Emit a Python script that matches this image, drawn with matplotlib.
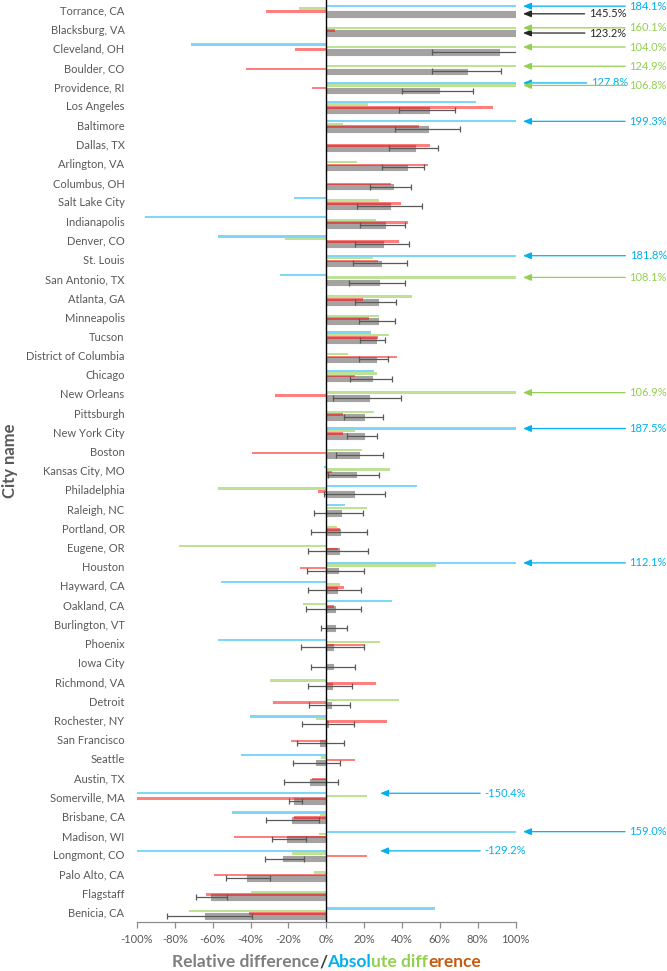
import numpy as np
import matplotlib
matplotlib.use("Agg")
import matplotlib.pyplot as plt
from matplotlib.offsetbox import TextArea, HPacker, AnchoredOffsetbox

plt.rcParams["font.family"] = ["Lato", "DejaVu Sans"]

nan = np.nan

# ── Data (percent) ────────────────────────────────────────────────────────────
cities = [
    "Torrance, CA", "Blacksburg, VA", "Cleveland, OH", "Boulder, CO", "Providence, RI",
    "Los Angeles", "Baltimore", "Dallas, TX", "Arlington, VA", "Columbus, OH",
    "Salt Lake City", "Indianapolis", "Denver, CO", "St. Louis", "San Antonio, TX",
    "Atlanta, GA", "Minneapolis", "Tucson", "District of Columbia", "Chicago",
    "New Orleans", "Pittsburgh", "New York City", "Boston", "Kansas City, MO",
    "Philadelphia", "Raleigh, NC", "Portland, OR", "Eugene, OR", "Houston",
    "Hayward, CA", "Oakland, CA", "Burlington, VT", "Phoenix", "Iowa City",
    "Richmond, VA", "Detroit", "Rochester, NY", "San Francisco", "Seattle",
    "Austin, TX", "Somerville, MA", "Brisbane, CA", "Madison, WI", "Longmont, CO",
    "Palo Alto, CA", "Flagstaff", "Benicia, CA",
]

# relative difference (gray) with error range
rel = [145.5, 123.2, 91.3, 74.5, 59.7, 54.4, 53.7, 47.0, 42.5, 35.1,
       33.6, 30.9, 29.8, 29.1, 28.0, 27.3, 27.3, 26.4, 26.2, 24.2,
       22.4, 20.1, 20.1, 17.4, 15.7, 14.5, 7.8, 7.2, 6.7, 6.3,
       5.6, 4.5, 4.5, 3.8, 3.4, 2.9, 2.5, 1.1, -3.4, -5.6,
       -8.5, -17.2, -17.9, -20.8, -23.0, -42.1, -60.9, -64.2]
err_lo = [nan, nan, 56.0, 56.0, 40.2, 38.7, 36.5, 32.9, 29.5, 23.0,
          16.1, 17.9, 15.0, 14.1, 11.9, 15.0, 17.4, 17.9, 17.4, 12.8,
          3.8, 9.6, 11.2, 4.9, 1.0, -1.1, -6.3, -7.8, -9.6, -10.0,
          -9.4, -10.7, -2.9, -13.4, -7.8, -9.6, -8.9, -12.8, -15.7, -17.4,
          -22.4, -19.7, -31.8, -28.6, -32.4, -53.0, -68.7, -83.9]
err_hi = [nan, nan, 110.0, 92.4, 77.7, 68.2, 70.5, 58.8, 51.9, 45.0,
          50.8, 41.4, 43.6, 42.5, 41.8, 36.9, 36.5, 31.3, 32.4, 34.7,
          39.6, 29.8, 26.8, 29.8, 28.0, 30.9, 19.5, 21.3, 21.9, 20.1,
          18.6, 18.6, 11.2, 20.1, 15.2, 13.4, 12.3, 14.5, 9.6, 7.4,
          6.0, -12.8, -3.8, -10.5, -11.6, -29.5, -52.6, -39.1]

# absolute difference series
blue = [184.1, nan, -71.6, nan, 127.8, 79.0, 199.3, nan, nan, nan,
        -16.8, -96.0, -57.0, 181.8, -24.6, nan, nan, 23.9, nan, 25.3,
        nan, nan, 187.5, nan, -1.1, 48.1, 10.1, nan, nan, 112.1,
        -55.5, 34.7, nan, -57.0, nan, nan, nan, -40.3, nan, -45.2,
        nan, -150.4, -49.7, 159.0, -129.2, nan, nan, 57.7]
green = [-14.5, 160.1, 104.0, 124.9, 106.8, 21.9, 9.0, nan, 16.1, nan,
         28.0, 26.4, -21.7, 24.6, 108.1, 45.4, 28.0, 33.1, 11.6, 26.8,
         106.9, 25.3, 15.2, 19.0, 33.6, -57.0, 21.7, 5.6, -77.6, 58.2,
         7.4, -12.3, nan, 28.6, nan, -29.8, 38.7, -5.6, nan, -2.9,
         nan, 21.7, -3.4, -3.8, -17.9, -6.3, -39.8, -72.7]
red = [-32.0, 4.5, -16.3, -42.3, -7.4, 87.9, 49.2, 54.8, 53.7, 34.2,
       39.6, 43.0, 38.5, 27.5, nan, 19.5, 22.8, 27.1, 37.4, 15.2,
       -27.3, 9.0, 9.0, -39.1, 2.9, -4.5, nan, 7.2, 6.3, -14.1,
       9.6, 4.0, nan, 20.6, nan, 26.4, -28.4, 32.0, -18.6, 15.2,
       -7.4, -100.0, -16.8, -48.8, 21.3, -59.3, -63.3, -40.9]

# ── Colors ────────────────────────────────────────────────────────────────────
BLUE = "#00b0f0"
GREEN = "#92d050"
RED = "#ff0000"
GRAY = "#a5a2a2"
ORANGE = "#c55a11"
TXT = "#595959"

fig = plt.figure(figsize=(6.67, 9.71), dpi=100)
ax = fig.add_axes([137 / 667, 1 - 921.7 / 971, 378.5 / 667, 921.7 / 971])

y = np.arange(len(cities))
rel_a = np.array(rel)
lo = np.array(err_lo)
hi = np.array(err_hi)

# gray relative-difference bars + error bars
ax.barh(y + 0.2, rel_a, height=0.3, color=GRAY, edgecolor=GRAY,
        linewidth=0.8, joinstyle="round", zorder=2)
ax.barh(y - 0.2, blue, height=0.12, color=BLUE, alpha=0.5, linewidth=0, zorder=3)
ax.barh(y - 0.07, green, height=0.12, color=GREEN, alpha=0.6, linewidth=0, zorder=3)
ax.barh(y + 0.07, red, height=0.13, color=RED, alpha=0.5, linewidth=0, zorder=4)

ok = ~np.isnan(lo)
ax.errorbar(rel_a[ok], y[ok] + 0.2,
            xerr=[rel_a[ok] - lo[ok], hi[ok] - rel_a[ok]],
            fmt="none", ecolor=TXT, elinewidth=0.9, capsize=2.5, capthick=0.9,
            zorder=5)

ax.axvline(0, color="black", linewidth=1.0, zorder=6)

# ── Out-of-range annotations ─────────────────────────────────────────────────
def note(val, yy, color, tx=180):
    if val > 100:
        head, tpos = 104, tx
    else:
        head, tpos = 28.5, 105.5
    ax.annotate(f"{val:.1f}%", xy=(head, yy), xytext=(tpos, yy),
                ha="right", va="center", fontsize=8, color=color,
                annotation_clip=False,
                arrowprops=dict(arrowstyle="-|>,head_length=0.6,head_width=0.25",
                                color=color, lw=0.9, shrinkA=1, shrinkB=0))

for i in range(len(cities)):
    if abs(rel[i]) > 100:
        note(rel[i], i + 0.2, "#262626", tx=158.5)
    if abs(blue[i]) > 100:
        note(blue[i], i - 0.2, BLUE, tx=159.5 if cities[i] == "Providence, RI" else 180)
    if abs(green[i]) > 100:
        note(green[i], i - 0.07, GREEN)

# ── Axes styling ──────────────────────────────────────────────────────────────
ax.set_xlim(-100, 100)
ax.set_ylim(47.49, -0.52)
ax.set_yticks(y)
ax.set_yticklabels(cities, fontsize=8, color=TXT)
ax.tick_params(axis="y", length=0, pad=9)
ticks = np.arange(-100, 101, 20)
ax.set_xticks(ticks)
ax.set_xticklabels([f"{t}%" for t in ticks], fontsize=8, color=TXT)
ax.tick_params(axis="x", length=4, width=0.9, color="#8c8c8c", pad=5)
for s in ["top", "right", "left"]:
    ax.spines[s].set_visible(False)
ax.spines["bottom"].set_color("#8c8c8c")
ax.spines["bottom"].set_linewidth(0.9)

ax.set_ylabel("City name", fontsize=12, fontweight="bold", color=TXT)
ax.yaxis.set_label_coords((2 - 137) / 378.5, 0.5)
ax.yaxis.label.set_verticalalignment("top")

# multicolour x label
parts = [("Relative difference", "#7f7f7f"), ("/", "#404040"),
         ("Absol", BLUE), ("ute diff", GREEN), ("erence", ORANGE)]
boxes = [TextArea(t, textprops=dict(color=c, fontsize=12.5, fontweight="bold"))
         for t, c in parts]
pack = HPacker(children=boxes, align="baseline", pad=0, sep=0)
anchored = AnchoredOffsetbox(loc="center", child=pack, frameon=False, pad=0,
                             borderpad=0,
                             bbox_to_anchor=(326.5 / 667, 1 - 962 / 971),
                             bbox_transform=fig.transFigure)
fig.add_artist(anchored)

fig.savefig("out.png", dpi=100)
